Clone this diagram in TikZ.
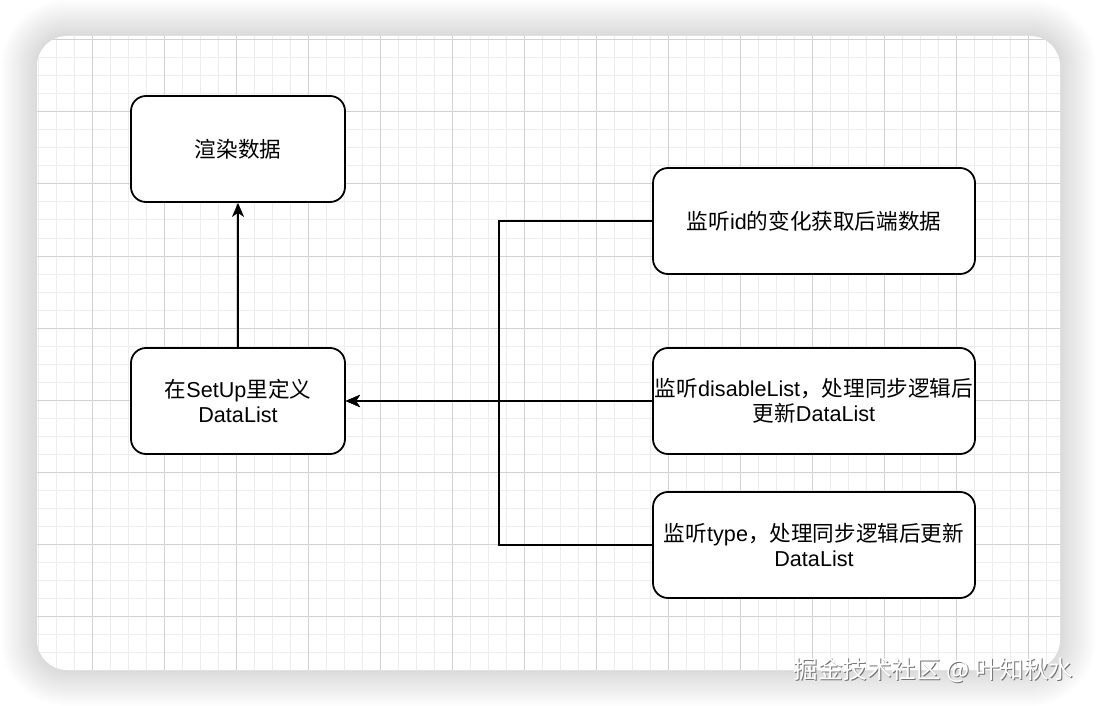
\documentclass[tikz,border=0pt]{standalone}
\usepackage{fontspec}
\setmainfont{Liberation Sans}
\newfontfamily\cjk{Noto Sans CJK SC}
\usepackage{xcolor}
\usepackage{tikz}
\usetikzlibrary{arrows.meta, positioning}
\newcommand{\zh}[1]{{\cjk #1}}
\definecolor{gridminor}{HTML}{EDEDED}
\definecolor{gridmajor}{HTML}{D2D2D2}

\begin{document}
\begin{tikzpicture}[x=1pt, y=-1pt,
  box/.style={rectangle, rounded corners=15pt, draw=black, line width=1.8pt,
              fill=white, align=center, inner sep=0pt,
              font=\fontsize{21.6}{25}\selectfont},
  narrowbox/.style={box, minimum width=214pt, minimum height=106pt},
  widebox/.style={box, minimum width=322pt, minimum height=106pt},
  flow/.style={-{Stealth[length=14pt, width=12pt, inset=4pt]}, line width=1.8pt},
  signature/.style={font=\cjk\fontsize{24.5}{25}\selectfont}
]
  \useasboundingbox (0,0) rectangle (1096,706);

  % soft shadow round the card
  \foreach \s [evaluate=\s as \r using 30+\s] in {2,4,...,36}
    \fill[black, opacity=0.009, rounded corners=\r pt]
      (37-\s,36-\s) rectangle (1060+\s,670+\s);

  % card with grid
  \fill[white, rounded corners=30pt] (37,36) rectangle (1060,670);
  \begin{scope}
    \clip[rounded corners=30pt] (37,36) rectangle (1060,670);
    \foreach \gx in {38,56,...,1046}
      \draw[gridminor, line width=1pt] (\gx,36) -- (\gx,670);
    \foreach \gy in {40,58,...,670}
      \draw[gridminor, line width=1pt] (37,\gy) -- (1060,\gy);
    \foreach \gx in {92,164,...,1028}
      \draw[gridmajor, line width=1pt] (\gx,36) -- (\gx,670);
    \foreach \gy in {40,112,...,616}
      \draw[gridmajor, line width=1pt] (37,\gy) -- (1060,\gy);
  \end{scope}

  % left column
  \node[narrowbox] (render) at (238,149) {\zh{渲染数据}};
  \node[narrowbox] (setup) at (238,401) {\zh{在}SetUp\zh{里定义}\\DataList};

  % watchers
  \node[widebox] (watchid) at (814,221) {\zh{监听}id\zh{的变化获取后端数据}};
  \node[widebox] (watchdis) at (814,401)
    {\zh{监听}disableList\zh{，处理同步逻辑后}\\\zh{更新}DataList};
  \node[widebox] (watchtype) at (814,545)
    {\zh{监听}type\zh{，处理同步逻辑后更新}\\DataList};

  \coordinate (merge) at (499,401);

  \draw[flow] (setup) -- (render);
  \draw[flow] (watchid.west) -| (merge) -- (setup.east);
  \draw[flow] (watchdis.west) -- (setup.east);
  \draw[flow] (watchtype.west) -| (merge) -- (setup.east);

  % site mark
  \node[signature, text=black!55] (markshade) at (934.5,671.5)
    {掘金技术社区 @ 叶知秋水};
  \node[signature, text=white] (mark) at (933.5,670.5)
    {掘金技术社区 @ 叶知秋水};
\end{tikzpicture}
\end{document}
